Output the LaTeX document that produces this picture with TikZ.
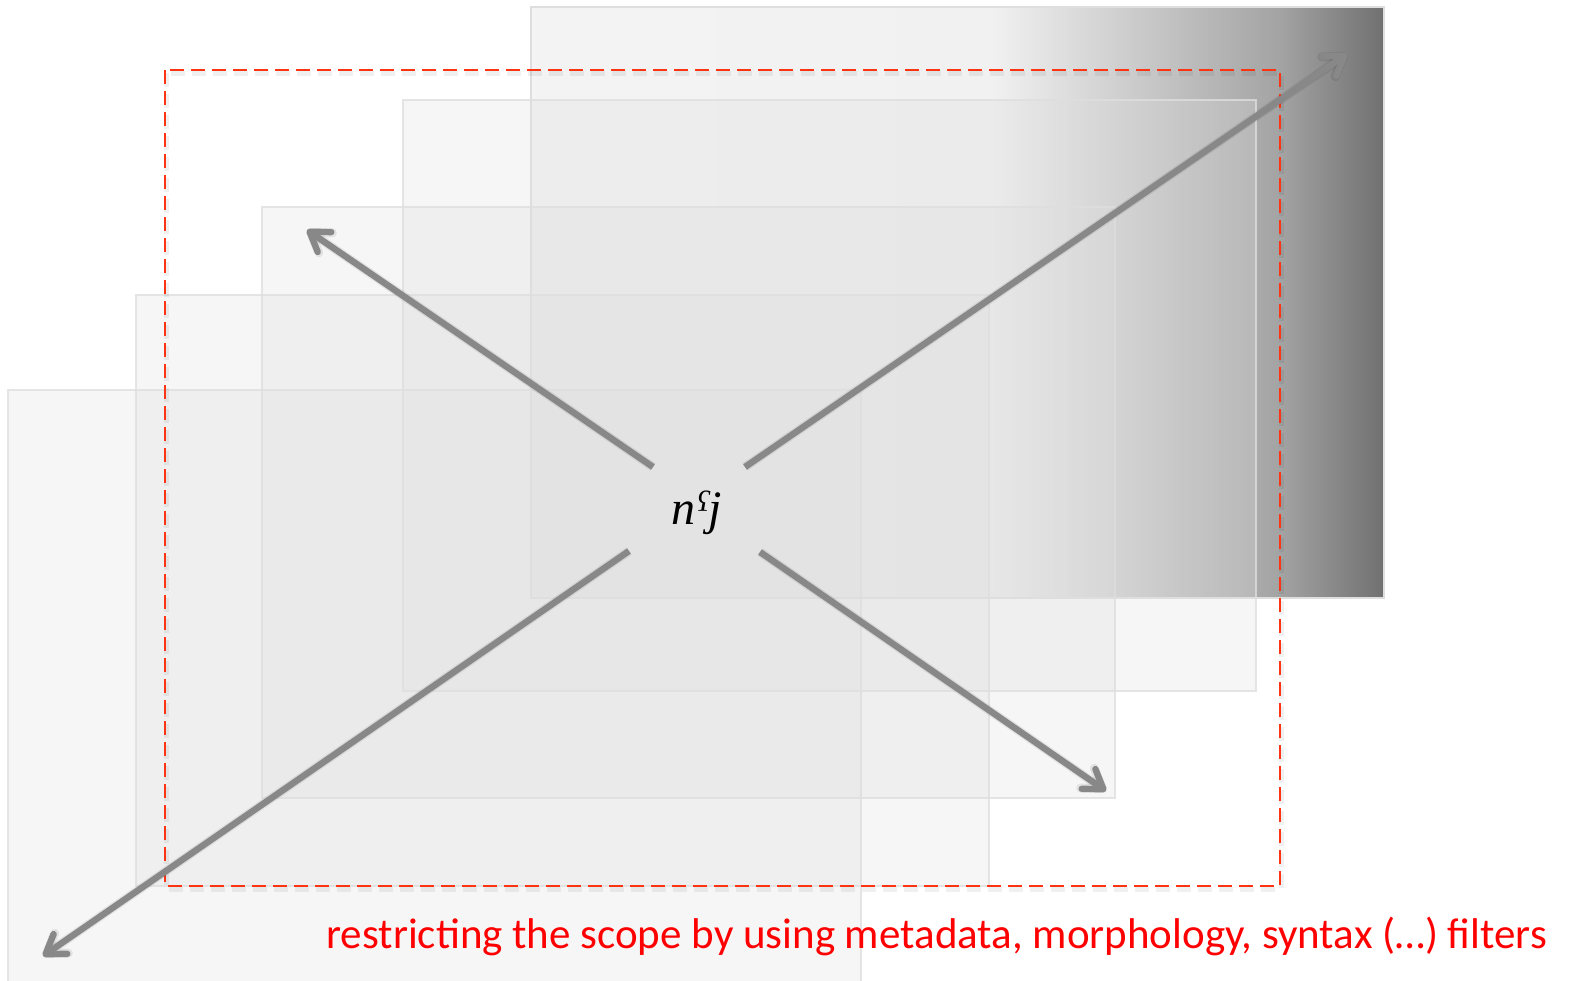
\documentclass[tikz,border=0pt]{standalone}
\usepackage{fontspec}
\setmainfont{Liberation Serif}
\newfontfamily\labelfont{Carlito}
\usetikzlibrary{arrows.meta}

% back sheet: flat light grey that darkens towards its right edge
\pgfdeclarehorizontalshading{backsheet}{100bp}{%
  rgb(0bp)=(0.955,0.955,0.955);
  rgb(25bp)=(0.955,0.955,0.955);
  rgb(52bp)=(0.945,0.945,0.945);
  rgb(61.3bp)=(0.78,0.78,0.78);
  rgb(68.9bp)=(0.64,0.64,0.64);
  rgb(75bp)=(0.44,0.44,0.44);
  rgb(100bp)=(0.44,0.44,0.44)}

\definecolor{sheetfill}{RGB}{222,222,222}
\definecolor{sheetline}{RGB}{222,222,222}
\definecolor{arrowgrey}{RGB}{136,136,136}
\definecolor{frameRed}{RGB}{255,52,18}
\definecolor{capRed}{RGB}{255,0,0}

\tikzset{
  sheet/.style={fill=sheetfill, fill opacity=0.28, draw=sheetline, draw opacity=0.8, line width=0.7pt},
  backsheet/.style={shading=backsheet, draw=sheetline, line width=0.7pt},
  scopeframe/.style={draw=frameRed, line width=1.25pt, dash pattern=on 7pt off 3.5pt},
  frameshadow/.style={draw=black, opacity=0.06, line width=2.5pt, dash pattern=on 7pt off 3.5pt},
  axisarrow/.style={draw=arrowgrey, line width=3.2pt,
    -{Straight Barb[length=9pt,width=12pt,round]}},
  arrowshadow/.style={draw=black, opacity=0.08, line width=4.5pt,
    -{Straight Barb[length=9pt,width=12pt,round]}},
  stem/.style={font=\fontsize{24}{28}\selectfont\itshape, inner sep=0pt},
  caption/.style={font=\labelfont\fontsize{21.5}{25}\selectfont, text=capRed, inner sep=0pt}
}

\begin{document}
\begin{tikzpicture}[x=0.5pt, y=-0.5pt]
\useasboundingbox (0,0) rectangle (1569,980);

\begin{scope}
  \clip (0,0) rectangle (1569,980);
  % stacked sheets, back to front
  \shade[backsheet] (531,7) rectangle (1384,598);
  \path[sheet] (403,100) rectangle (1256,691);
  \path[sheet] (262,207) rectangle (1115,798);
  \path[sheet] (136,295) rectangle (989,886);
  \path[sheet] (8,390) rectangle (861,990);
\end{scope}

% dashed frame of the restricted scope
\draw[frameshadow, shift={(1,3)}] (165,70) rectangle (1280,886);
\draw[scopeframe] (165,70) rectangle (1280,886);

% central form
\node[stem] (c) at (697,513) {nˤj};

% arrow end points
\coordinate (nwS) at (653,467);
\coordinate (nwT) at (307,230);
\coordinate (neS) at (745,467);
\coordinate (neT) at (1347,54);
\coordinate (swS) at (629,551);
\coordinate (swT) at (43,956);
\coordinate (seS) at (760,552);
\coordinate (seT) at (1106,791);

\begin{scope}[shift={(1,4)}]
  \draw[arrowshadow] (nwS) -- (nwT);
  \draw[arrowshadow] (neS) -- (neT);
  \draw[arrowshadow] (swS) -- (swT);
  \draw[arrowshadow] (seS) -- (seT);
\end{scope}
\draw[axisarrow] (nwS) -- (nwT);
\draw[axisarrow] (neS) -- (neT);
\draw[axisarrow] (swS) -- (swT);
\draw[axisarrow] (seS) -- (seT);

\node[caption, anchor=base west] (cap) at (326,948)
  {restricting the scope by using metadata, morphology, syntax (…) filters};
\end{tikzpicture}
\end{document}
